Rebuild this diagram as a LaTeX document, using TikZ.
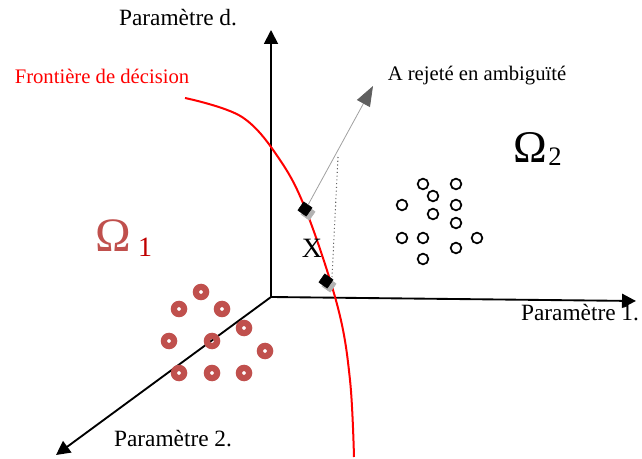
\documentclass[tikz,border=0pt]{standalone}
\usepackage{fontspec}
\setmainfont{Liberation Serif}
\usetikzlibrary{arrows.meta,shapes.geometric}
\definecolor{donut}{RGB}{192,80,77}
\definecolor{omegaone}{RGB}{192,0,0}
\definecolor{headgray}{RGB}{95,95,95}
\definecolor{linegray}{RGB}{160,160,160}
\begin{document}
\begin{tikzpicture}[x=0.75pt,y=-0.75pt,
  axis/.style={line width=1.4pt,-{Triangle[length=10.5pt,width=10.5pt]}},
  axlabel/.style={font=\fontsize{17.5}{20}\selectfont},
  smalllabel/.style={font=\fontsize{15.5}{18}\selectfont},
  blackpt/.style={draw=black,line width=1.3pt,circle,minimum size=8pt,inner sep=0pt},
  diam/.style={fill=black,draw=black,diamond,minimum size=11pt,inner sep=0pt,rotate=10}]
\useasboundingbox (0,0) rectangle (642,459);
% axes
\coordinate (O) at (271,297);
\coordinate (Ytip) at (271,30);
\coordinate (Xtip) at (636,301);
\coordinate (Ztip) at (56,455);
\draw[axis] (O) -- (Ytip);
\draw[axis] (O) -- (Xtip);
\draw[axis] (O) -- (Ztip);
\node[axlabel] (pd) at (178,18) {Paramètre d.};
\node[axlabel] (p1) at (580,313) {Paramètre 1.};
\node[axlabel] (p2) at (173,439) {Paramètre 2.};
% decision boundary
\draw[red,line width=1.5pt] plot[smooth,tension=0.6] coordinates {(185,98) (242,117) (280,160) (307,213) (338,308) (350,380) (354,457)};
\node[red,smalllabel] (front) at (102,76) {Frontière de décision};
% rejected point
\coordinate (Atip) at (373,86);
\coordinate (dtop) at (338,157);
\coordinate (dbot) at (332,277);
\node[diam,fill=gray!60,draw=gray!60] (s1) at (308,213) {};
\node[diam,fill=gray!60,draw=gray!60] (s2) at (329,285) {};
\node[diam] (d1) at (305,209) {};
\node[diam] (d2) at (326,281) {};
\draw[linegray,line width=0.6pt,-{Triangle[length=15pt,width=11pt,fill=headgray,color=headgray]}] (d1.center) ++(3,-4) -- (Atip);
\draw[gray!80!black,dotted,line width=0.8pt] (dtop) -- (dbot);
\node[smalllabel] (arej) at (477,76) {A rejeté en ambiguïté};
\node[font=\fontsize{21}{24}\selectfont] (X) at (312,248) {X};
% Omega labels
\node[font=\fontsize{36}{40}\selectfont,donut] (om1) at (113,236) {Ω};
\node[font=\fontsize{21}{24}\selectfont,omegaone] (om1s) at (145,247) {1};
\node[font=\fontsize{34}{38}\selectfont] (om2) at (530,147) {Ω};
\node[font=\fontsize{20}{24}\selectfont] (om2s) at (555,157) {2};
% class 2 points
\foreach \p in {(423,184),(456,184),(433,196),(402,205),(456,205),(433,214),(456,223),(402,238),(423,238),(477,238),(456,248),(423,259)}
  \node[blackpt] at \p {};
% class 1 points
\foreach \p in {(201,292),(179,309),(222,309),(244,328),(169,341),(212,341),(265,351),(179,373),(212,373),(244,373)}
  \fill[donut,even odd rule] \p circle[radius=8.3] \p circle[radius=2];
\end{tikzpicture}
\end{document}
